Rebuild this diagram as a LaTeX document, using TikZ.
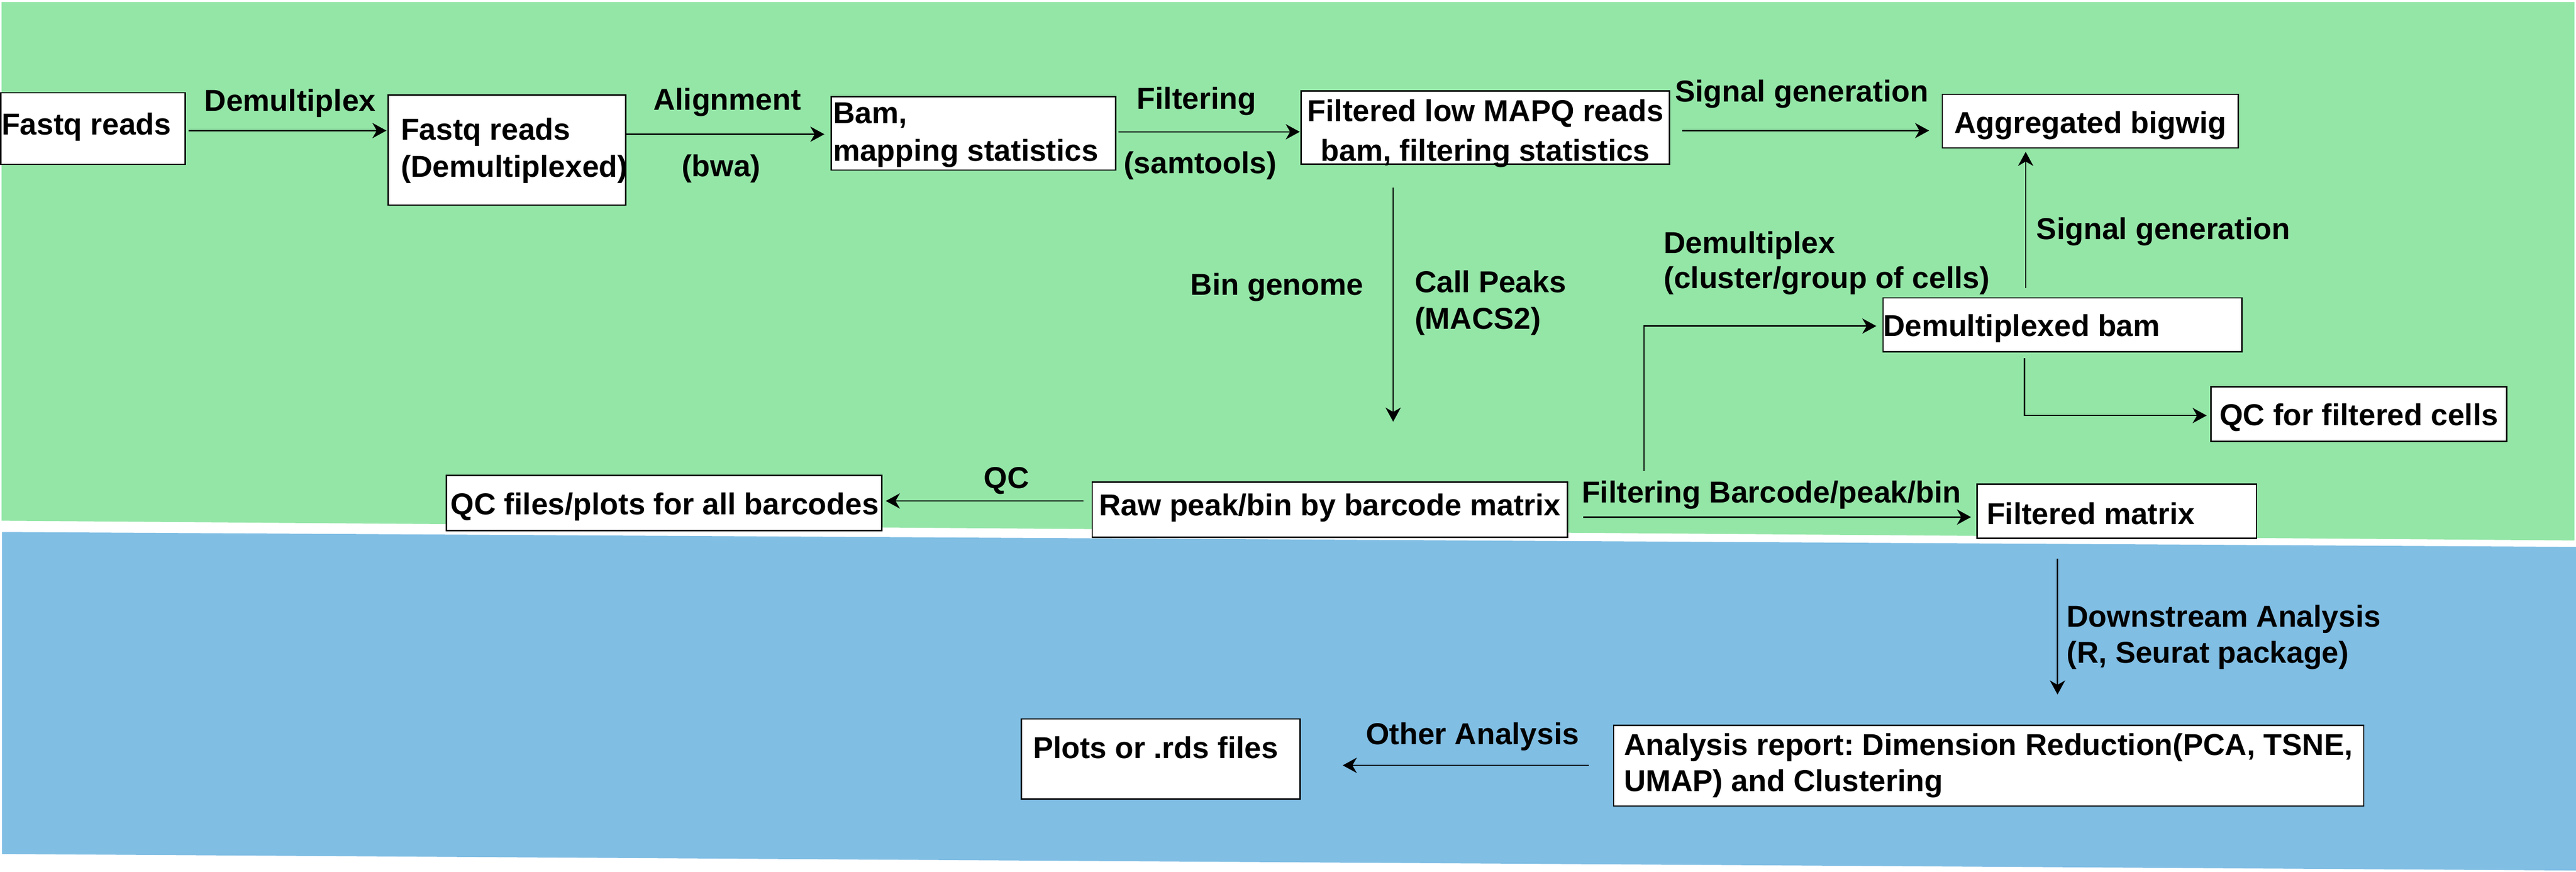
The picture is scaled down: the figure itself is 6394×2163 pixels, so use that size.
\documentclass[tikz,border=0pt]{standalone}
\usepackage{fontspec}
\setmainfont{Liberation Sans}
\usetikzlibrary{arrows.meta}
\definecolor{bggreen}{RGB}{148,230,167}
\definecolor{bgblue}{RGB}{128,190,228}
\newcommand\bxt[3]{\raisebox{#1}[0pt][0pt]{\parbox[t]{#2}{#3}}}
\hfuzz=80pt
\frenchspacing
\begin{document}
\begin{tikzpicture}[x=0.1pt,y=-0.1pt,
  box/.style={draw=black, line width=0.35pt, fill=white, inner sep=0pt, font=\fontsize{7.5pt}{9.2pt}\selectfont\bfseries\frenchspacing},
  lbl/.style={inner sep=0pt, font=\fontsize{7.5pt}{9.2pt}\selectfont\bfseries\frenchspacing},
  arr/.style={draw=black, line width=0.3pt, -{Stealth[length=3.5pt,width=3.8pt,inset=1.1pt]}}]

\useasboundingbox (0,0) rectangle (6394,2163);
\fill[white] (0,0) rectangle (6394,2163);
\fill[bggreen] (4,5) -- (6390,5) -- (6390,1341) -- (4,1292) -- cycle;
\fill[bgblue] (5,1320) -- (6394,1357) -- (6394,2160) -- (5,2119) -- cycle;

% boxes
\node[box, minimum width=45.8pt, minimum height=17.8pt] (fq) at (231,319)
  {\bxt{-1.5pt}{45.4pt}{\raggedright\mbox{Fastq reads}}};
\node[box, minimum width=58.9pt, minimum height=27.3pt] (fqd) at (1258.5,372.5)
  {\bxt{2.55pt}{52.7pt}{\raggedright\mbox{Fastq reads}\\\mbox{(Demultiplexed)}}};
\node[box, minimum width=70.6pt, minimum height=18.2pt] (bam) at (2416,331)
  {\bxt{2.5pt}{69.6pt}{\raggedright\mbox{Bam,}\\[0.2pt]\mbox{mapping statistics}}};
\node[box, minimum width=91.4pt, minimum height=18.1pt] (filt) at (3687,316.5)
  {\bxt{1.55pt}{90pt}{\centering\mbox{Filtered low MAPQ reads}\\[0.7pt]\mbox{bam, filtering statistics}}};
\node[box, minimum width=73.5pt, minimum height=13.3pt] (agg) at (5188.5,300.5)
  {\bxt{-3.05pt}{72pt}{\centering\mbox{Aggregated bigwig}}};
\node[box, minimum width=88.3pt, minimum height=13.4pt] (dbam) at (5119.5,806)
  {\bxt{-2.8pt}{89.1pt}{\raggedright\mbox{Demultiplexed bam}}};
\node[box, minimum width=73.4pt, minimum height=13.5pt] (qcf) at (5855,1027.5)
  {\bxt{-2.75pt}{72pt}{\centering\mbox{QC for filtered cells}}};
\node[box, minimum width=118pt, minimum height=13.7pt] (raw) at (3301,1264.5)
  {\bxt{-1.45pt}{116pt}{\centering\mbox{Raw peak/bin by barcode matrix}}};
\node[box, minimum width=108.1pt, minimum height=13.6pt] (qca) at (1648.5,1248)
  {\bxt{-2.9pt}{106pt}{\centering\mbox{QC files/plots for all barcodes}}};
\node[box, minimum width=69.4pt, minimum height=13.5pt] (fm) at (5254,1268.5)
  {\bxt{-3.25pt}{64.6pt}{\raggedright\mbox{Filtered matrix}}};
\node[box, minimum width=186.2pt, minimum height=20pt] (rep) at (4936,1900)
  {\bxt{2.6pt}{181pt}{\raggedright\mbox{Analysis report: Dimension Reduction(PCA, TSNE,}\\[-0.2pt]\mbox{UMAP) and Clustering}}};
\node[box, minimum width=69.2pt, minimum height=19.9pt] (plots) at (2881,1883.5)
  {\bxt{0.15pt}{63.4pt}{\raggedright\mbox{Plots or .rds files}}};

% labels
\node[lbl, anchor=base] (lDemux) at (720,275) {Demultiplex};
\node[lbl, anchor=base] (lAlign) at (1805,273) {Alignment};
\node[lbl, anchor=base] (lBwa) at (1790,438) {(bwa)};
\node[lbl, anchor=base] (lFilt) at (2970,270) {Filtering};
\node[lbl, anchor=base] (lSam) at (2979,430) {(samtools)};
\node[lbl, anchor=base] (lSig1) at (4472,252) {Signal generation};
\node[lbl, anchor=base west] (lSig2) at (5053,594) {Signal generation};
\node[lbl, anchor=base west] (lDemux2) at (4128,629)
  {\parbox[t]{90pt}{\raggedright Demultiplex\\[-0.5pt](cluster/group of cells)}};
\node[lbl, anchor=base east] (lBin) at (3386,732) {Bin genome};
\node[lbl, anchor=base west] (lPeaks) at (3510,726)
  {\parbox[t]{40pt}{\raggedright Call Peaks\\[-0.2pt](MACS2)}};
\node[lbl, anchor=base] (lQC) at (2498,1211) {QC};
\node[lbl, anchor=base west] (lFB) at (3924,1247) {Filtering Barcode/peak/bin};
\node[lbl, anchor=base west] (lDown) at (5128,1556)
  {\parbox[t]{90pt}{\raggedright Downstream Analysis\\[-0.3pt](R, Seurat package)}};
\node[lbl, anchor=base] (lOther) at (3655,1847) {Other Analysis};

% connectors
\draw[arr, shorten <=0.6pt, shorten >=0.3pt] (fq.east |- 0,324) -- (fqd.west |- 0,324);
\draw[arr, shorten >=1.5pt] (fqd.east |- 0,333) -- (bam.west |- 0,333);
\draw[arr, shorten <=0.5pt, shorten >=0.2pt] (bam.east |- 0,327) -- (filt.west |- 0,327);
\draw[arr, shorten <=2.9pt, shorten >=3.1pt] (filt.east |- 0,324) -- (agg.west |- 0,324);
\draw[arr, shorten <=2.3pt, shorten >=0.8pt] (dbam.north -| 5028,0) -- (agg.south -| 5028,0);
\draw[arr, shorten <=5.7pt, shorten >=14.8pt] (filt.south -| 3458,0) -- (raw.north -| 3458,0);
\coordinate (brA) at (4081,1169);
\draw[arr, shorten >=1.5pt] (brA) |- (dbam.west |- 0,809);
\draw[arr, shorten <=1.4pt, shorten >=0.9pt] (dbam.south -| 5025,0) |- (qcf.west |- 0,1031);
\draw[arr, shorten <=2pt, shorten >=0.8pt] (raw.west |- 0,1243) -- (qca.east |- 0,1243);
\draw[arr, shorten <=3.7pt, shorten >=1.3pt] (raw.east |- 0,1283) -- (fm.west |- 0,1283);
\draw[arr, shorten <=4.9pt, shorten >=7.5pt] (fm.south -| 5107,0) -- (rep.north -| 5107,0);
\draw[arr, shorten <=6pt, shorten >=10.4pt] (rep.west |- 0,1899) -- (plots.east |- 0,1899);
\end{tikzpicture}
\end{document}
